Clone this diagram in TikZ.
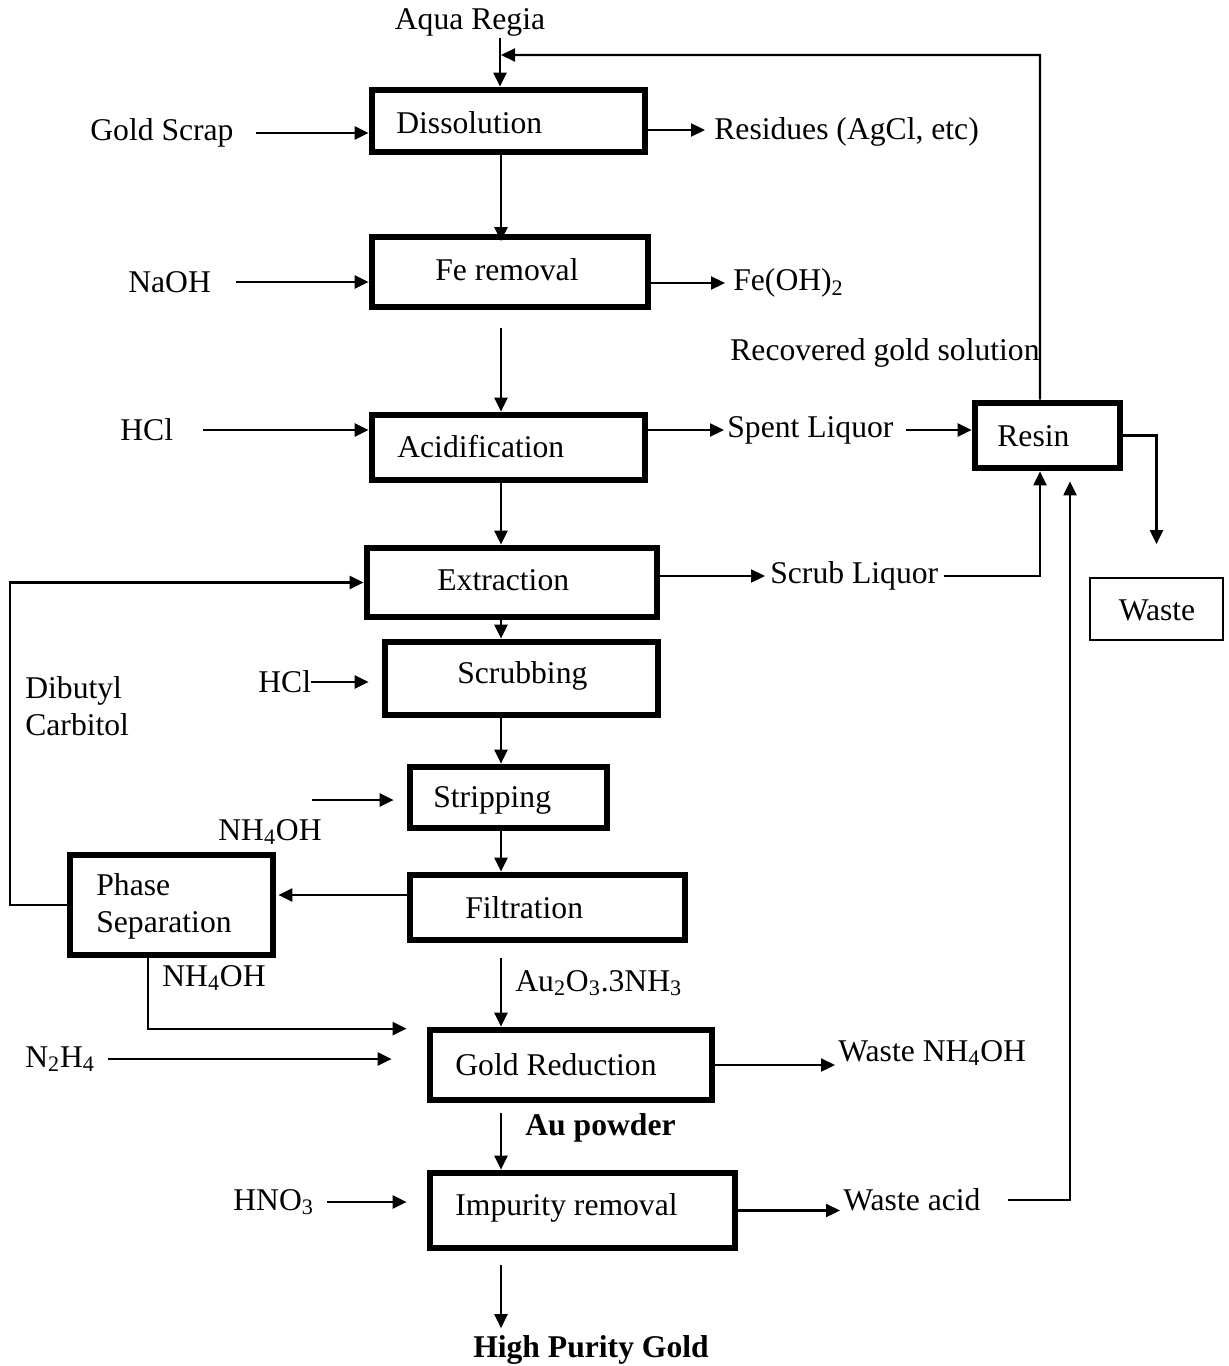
\documentclass[tikz,border=0pt]{standalone}
\usepackage{fontspec}
\setmainfont{Liberation Serif}
\usetikzlibrary{arrows.meta,fit,positioning}

\tikzset{
  stage/.style={draw, line width=1.35mm, inner sep=0pt},
  plainbox/.style={draw, line width=0.35mm, inner sep=0pt},
  txt/.style={inner sep=0pt, anchor=west},
  flow/.style={->, line width=0.45mm},
}

\begin{document}
\begin{tikzpicture}[x=0.2mm, y=-0.2mm, >={Triangle[length=2.8mm,width=2.6mm]}, font=\fontsize{18}{21}\selectfont]

\useasboundingbox (0,0) rectangle (1229,1366);
\coordinate (col) at (501,0);

% STAGE BOXES

\node[stage, fit={(372,90) (645,152)}] (diss) {};
\node[txt] (dissT) at (396,123) {Dissolution};

\node[stage, fit={(372,237) (648,307)}] (fe) {};
\node[txt] (feT) at (435,270) {Fe removal};

\node[stage, fit={(372,415) (645,480)}] (acid) {};
\node[txt] (acidT) at (397,447) {Acidification};

\node[stage, fit={(367,548) (657,617)}] (ext) {};
\node[txt] (extT) at (437,580) {Extraction};

\node[stage, fit={(385,642) (658,715)}] (scrub) {};
\node[txt] (scrubT) at (457,676) {Scrubbing};

\node[stage, fit={(410,767) (607,828)}] (strip) {};
\node[txt] (stripT) at (433,800) {Stripping};

\node[stage, fit={(410,875) (685,940)}] (filt) {};
\node[txt] (filtT) at (465,908) {Filtration};

\node[stage, fit={(70,855) (273,955)}] (phase) {};
\node[txt, align=left] (phaseT) at (96,906) {Phase\\Separation};

\node[stage, fit={(430,1030) (712,1100)}] (gred) {};
\node[txt] (gredT) at (455,1065) {Gold Reduction};

\node[stage, fit={(430,1173) (735,1248)}] (imp) {};
\node[txt] (impT) at (455,1208) {Impurity removal};

\node[stage, fit={(975,403) (1120,468)}] (resin) {};
\node[txt] (resinT) at (997,436) {Resin};

\node[plainbox, fit={(1090,578) (1223,640)}] (waste) {};
\node[inner sep=0pt] (wasteT) at (1157,610) {Waste};

% FEEDS AND PRODUCTS

\node[inner sep=0pt] (aqua) at (470,22) {Aqua Regia};
\node[txt] (scrap) at (90,133) {Gold Scrap};
\node[txt] (resid) at (714,132) {Residues (AgCl, etc)};
\node[txt] (naoh) at (128,282) {NaOH};
\node[txt] (feoh) at (733,283) {Fe(OH)\textsubscript{2}};
\node[txt] (recov) at (730,353) {Recovered gold solution};
\node[txt] (hclA) at (120,430) {HCl};
\node[txt] (spent) at (727,430) {Spent Liquor};
\node[txt] (scrubliq) at (770,576) {Scrub Liquor};
\node[txt, align=left] (dibutyl) at (25,706) {Dibutyl\\Carbitol};
\node[txt] (hclB) at (258,682) {HCl};
\node[txt] (nhA) at (218,832) {NH\textsubscript{4}OH};
\node[txt] (nhB) at (162,978) {NH\textsubscript{4}OH};
\node[txt] (auox) at (515,983) {Au\textsubscript{2}O\textsubscript{3}.3NH\textsubscript{3}};
\node[txt] (hydraz) at (25,1059) {N\textsubscript{2}H\textsubscript{4}};
\node[txt] (wastenh) at (838,1053) {Waste NH\textsubscript{4}OH};
\node[txt, font=\fontsize{18}{21}\selectfont\bfseries] (aupow) at (525,1128) {Au powder};
\node[txt] (hno) at (233,1202) {HNO\textsubscript{3}};
\node[txt] (wacid) at (843,1200) {Waste acid};
\node[inner sep=0pt, font=\fontsize{18}{21}\selectfont\bfseries] (hpg) at (591,1350) {High Purity Gold};

\coordinate (aquaIn) at (500,38);
\coordinate (nhIn) at (312,800);
\coordinate (retTop) at (1040,55);

% MAIN LINE

\draw[flow] (aquaIn) -- (aquaIn |- diss.north);
\draw[flow] (col |- diss.south) -- ([yshift=-1.5mm]col |- fe.north);
\draw[flow] ([yshift=-3.6mm]col |- fe.south) -- (col |- acid.north);
\draw[flow] (col |- acid.south) -- (col |- ext.north);
\draw[flow] (col |- ext.south) -- (col |- scrub.north);
\draw[flow] (col |- scrub.south) -- (col |- strip.north);
\draw[flow] (col |- strip.south) -- (col |- filt.north);
\draw[flow] ([yshift=-3mm]col |- filt.south) -- (col |- gred.north);
\draw[flow] ([yshift=-2mm]col |- gred.south) -- (col |- imp.north);
\draw[flow] ([yshift=-2.8mm]col |- imp.south) -- ([yshift=1.4mm]col |- hpg.north);

% SIDE STREAMS

\draw[flow] ([xshift=4.4mm]scrap.east) -- (scrap.east -| diss.west);
\draw[flow] ([yshift=0.4mm]diss.east |- resid.west) -- ([xshift=-1.8mm,yshift=0.4mm]resid.west);
\draw[flow] ([xshift=5mm]naoh.east) -- (naoh.east -| fe.west);
\draw[flow] (fe.east |- feoh.west) -- ([xshift=-1.6mm]feoh.west);
\draw[flow] ([xshift=6mm]hclA.east) -- (hclA.east -| acid.west);
\draw[flow] (acid.east |- spent.west) -- ([xshift=-0.6mm]spent.west);
\draw[flow] ([xshift=2.4mm]spent.east) -- (spent.east -| resin.west);
\draw[flow] (ext.east |- scrubliq.west) -- ([xshift=-1mm]scrubliq.west);
\draw[flow] (hclB.east) -- ([xshift=-2.6mm]hclB.east -| scrub.west);
\draw[flow] (nhIn) -- ([xshift=-2.6mm]nhIn -| strip.west);
\draw[flow] ([yshift=2.5mm]filt.west) -- ([xshift=0.4mm,yshift=2.5mm]filt.west -| phase.east);
\draw[flow] ([xshift=2.6mm]hydraz.east) -- ([xshift=-7mm]hydraz.east -| gred.west);
\draw[flow] (gred.east) -- ([xshift=-0.6mm]gred.east -| wastenh.west);
\draw[flow] ([xshift=2.6mm]hno.east) -- ([xshift=-4mm]hno.east -| imp.west);
\draw[flow] (imp.east) -- ([xshift=-0.6mm]imp.east -| wacid.west);

% RESIN LOOP

\draw[flow] ([xshift=-1.5mm]resin.north) -- (retTop) -- ([xshift=0.2mm]retTop -| aquaIn);
\draw[flow] ([xshift=1mm]scrubliq.east) -| ([xshift=-1.5mm]resin.south);
\draw[flow] ([xshift=5.4mm]wacid.east) -| ([xshift=4.5mm,yshift=-2mm]resin.south);
\draw[flow] (resin.east) -| ([yshift=6.6mm]waste.north);

% SOLVENT RECYCLE

\draw[flow] (phase.west) -- ++(-57,0) |- (ext.west);
\draw[flow] ([xshift=-4.7mm]phase.south) |- ([xshift=-4mm,yshift=-0.4mm]gred.north west);

\end{tikzpicture}
\end{document}
